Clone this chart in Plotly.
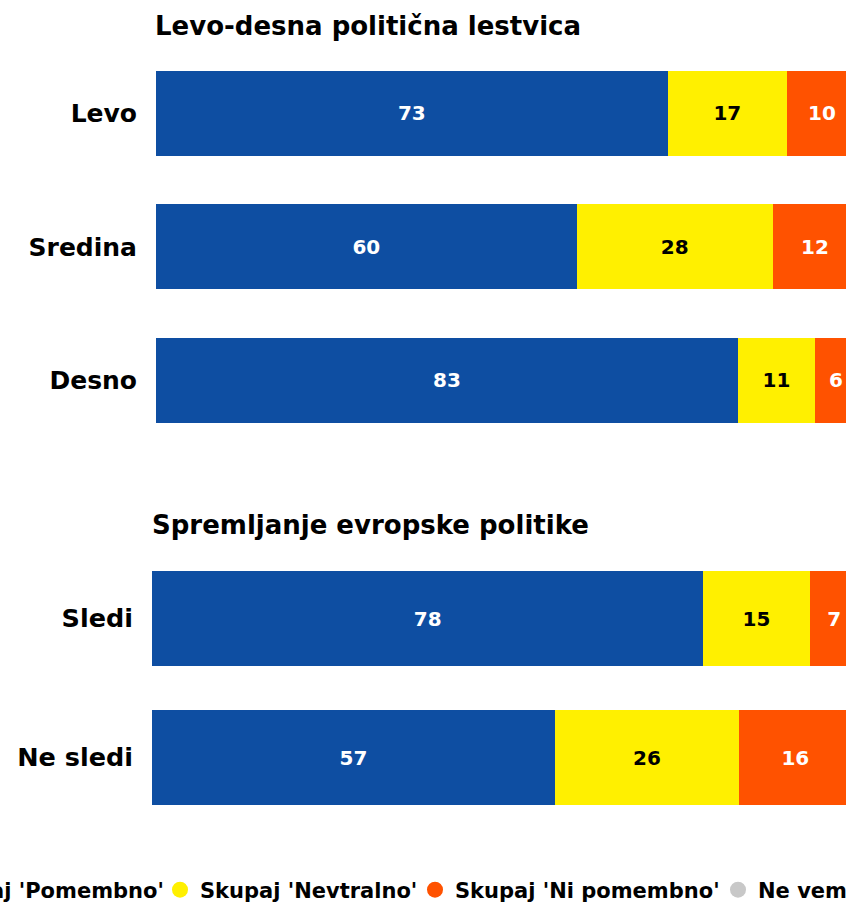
import plotly.graph_objects as go

# ---- data ----
top_categories = ["Levo", "Sredina", "Desno"]
bottom_categories = ["Sledi", "Ne sledi"]
series_names = ["Skupaj 'Pomembno'", "Skupaj 'Nevtralno'", "Skupaj 'Ni pomembno'", "Ne vem"]
top_pomembno = [73, 60, 83]
top_nevtralno = [17, 28, 11]
top_ni_pomembno = [10, 12, 6]
top_ne_vem = [0, 0, 0]
bottom_pomembno = [78, 57]
bottom_nevtralno = [15, 26]
bottom_ni_pomembno = [7, 16]
bottom_ne_vem = [0, 1]
title_top = "Levo-desna politična lestvica"
title_bottom = "Spremljanje evropske politike"

colors = ["#0E4EA2", "#FFF000", "#FF5200", "#C8C8C8"]
text_colors = ["white", "black", "white", "black"]
FONT = "DejaVu Sans"

W, H = 846, 904

fig = go.Figure()

top_series = [top_pomembno, top_nevtralno, top_ni_pomembno, top_ne_vem]
bottom_series = [bottom_pomembno, bottom_nevtralno, bottom_ni_pomembno, bottom_ne_vem]
legend_ids = ["legend", "legend2", "legend3", "legend4"]
legend_left_px = [-109, 160, 415, 718]

for i, name in enumerate(series_names):
    for vals, cats, xa, ya, w in [(top_series[i], top_categories, "x", "y", 85 / 133.5),
                                  (bottom_series[i], bottom_categories, "x2", "y2", 95 / 139)]:
        fig.add_trace(go.Bar(
            x=vals, y=cats, orientation="h", name=name, width=w,
            marker=dict(color=colors[i], line=dict(width=0)),
            text=[str(v) if v > 0 else "" for v in vals],
            textposition="inside", insidetextanchor="middle", textangle=0,
            textfont=dict(family=FONT, size=20, color=text_colors[i], weight="bold"),
            xaxis=xa, yaxis=ya, showlegend=False, hoverinfo="skip",
        ))
    # legend entries with circle markers (one legend per item for free positioning)
    fig.add_trace(go.Scatter(
        x=[None], y=[None], mode="markers", name=name,
        marker=dict(color=colors[i], size=18, symbol="circle"),
        xaxis="x", yaxis="y", showlegend=True, hoverinfo="skip",
        legend=legend_ids[i],
    ))

legend_common = dict(orientation="h", xanchor="left", y=1 - 890 / H, yanchor="middle",
                     font=dict(family=FONT, size=21, weight="bold"), itemsizing="trace",
                     bgcolor="rgba(0,0,0,0)", borderwidth=0)

layout_legends = {}
for lid, lx in zip(legend_ids, legend_left_px):
    layout_legends[lid] = dict(x=lx / W, **legend_common)

fig.update_layout(
    width=W, height=H,
    margin=dict(l=0, r=0, t=0, b=0, autoexpand=False),
    paper_bgcolor="white", plot_bgcolor="white",
    barmode="stack",
    font=dict(family=FONT, color="black"),
    xaxis=dict(domain=[156 / W, 1], range=[0, 690 / 701 * 100], visible=False, fixedrange=True),
    yaxis=dict(domain=[1 - 447 / H, 1 - 46.5 / H], autorange="reversed", fixedrange=True,
               tickfont=dict(family=FONT, size=25, weight="bold"),
               showgrid=False, zeroline=False, showline=False, ticks="", ticklabelstandoff=18),
    xaxis2=dict(domain=[152 / W, 1], range=[0, 694 / 707 * 100], visible=False, anchor="y2", fixedrange=True),
    yaxis2=dict(domain=[1 - 827 / H, 1 - 549 / H], autorange="reversed", anchor="x2", fixedrange=True,
                tickfont=dict(family=FONT, size=25.5, weight="bold"),
                showgrid=False, zeroline=False, showline=False, ticks="", ticklabelstandoff=18),
    uniformtext=dict(minsize=14, mode="hide"),
    annotations=[
        dict(text=title_top, x=153 / W, y=1 - 26 / H, xref="paper", yref="paper",
             xanchor="left", yanchor="middle", showarrow=False,
             font=dict(family=FONT, size=26, weight="bold")),
        dict(text=title_bottom, x=150 / W, y=1 - 525 / H, xref="paper", yref="paper",
             xanchor="left", yanchor="middle", showarrow=False,
             font=dict(family=FONT, size=26, weight="bold")),
    ],
    **layout_legends,
)

fig.write_html("out.html", config={"displayModeBar": False},
               post_script="document.body.style.margin='0px';document.body.style.overflow='hidden';")
